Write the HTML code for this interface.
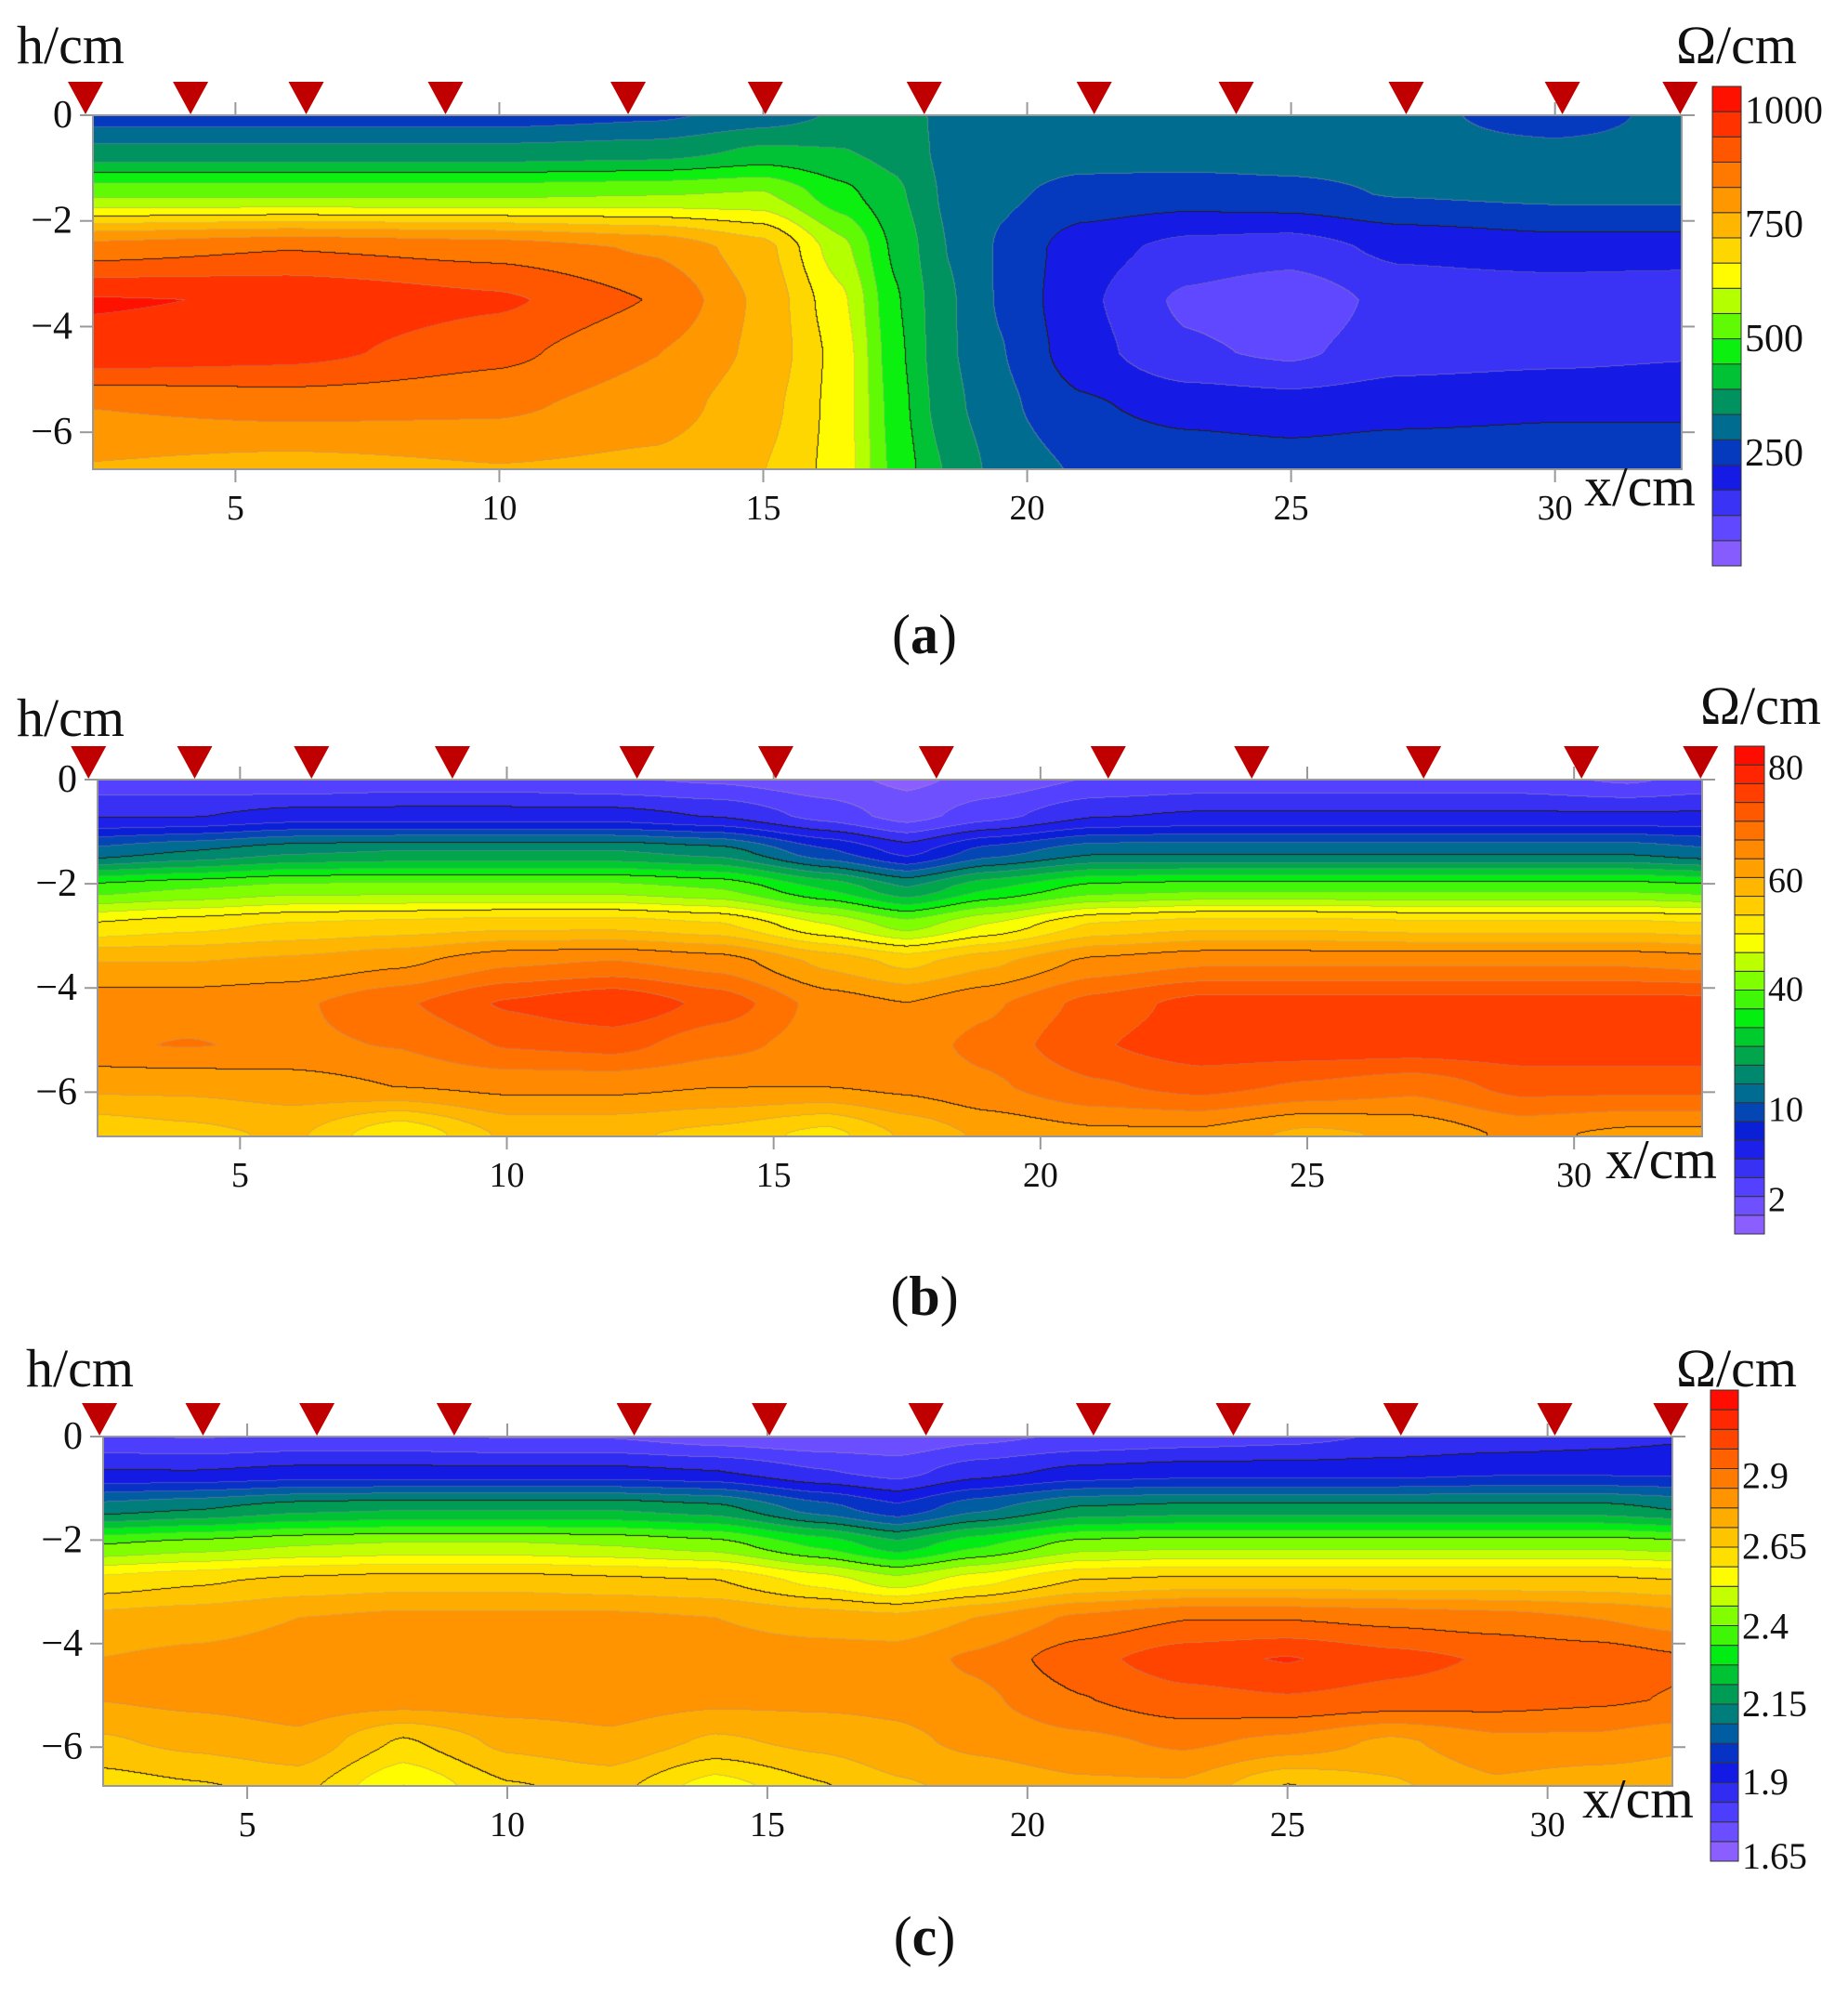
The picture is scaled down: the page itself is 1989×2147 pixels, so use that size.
<!DOCTYPE html>
<html><head><meta charset="utf-8">
<style>
html,body{margin:0;padding:0;background:#fff;}
#wrap{position:relative;width:1989px;height:2147px;overflow:hidden;background:#fff;}
canvas{position:absolute;}
svg{position:absolute;left:0;top:0;}
text{font-family:"Liberation Serif",serif;fill:#111;}
</style></head>
<body>
<div id="wrap">
<canvas id="cA"></canvas>
<canvas id="cB"></canvas>
<canvas id="cC"></canvas>
<svg id="ov" width="1989" height="2147"></svg>
</div>
<script>
// ---------- data ----------
const markerX = [2.16,4.15,6.34,8.98,12.44,15.04,18.05,21.27,23.96,27.18,30.14,32.37];
const xTicks = [5,10,15,20,25,30];
const yTicks = [0,-2,-4,-6];

// Panel a (values in ohm/cm, colour range 0..1050)
const xsA = [2,6,10,13,15,16.5,17.5,18.5,19.5,21,23,25,27,30,32.5];
const depthsA = [0,-0.7,-1.5,-2.5,-3.5,-4.5,-5.5,-6.7];
const valsA = [
 [245,245,245,265,300,340,370,310,300,295,300,300,300,240,300],
 [350,350,350,360,400,390,370,315,300,295,300,300,300,295,300],
 [540,540,540,550,560,460,400,320,285,260,250,260,280,290,290],
 [850,880,860,820,740,570,430,330,270,190,150,140,180,200,200],
 [1000,990,950,880,760,620,450,340,270,180,100,70,130,130,120],
 [980,960,900,830,760,640,460,340,280,190,120,100,140,150,160],
 [830,850,840,800,740,640,470,350,290,230,200,190,200,210,210],
 [770,750,770,760,720,640,480,380,310,270,260,250,260,260,260]
];
const levelsA = ["1000","750","500","250"];
const levelValsA = [1000,750,500,250];

// Panel b (normalised colour value 0..1)
const xsB = [2,4,6,8,10,12,14,16,17.5,19,21,23,25,27,29,31,32.5];
const depthsB = [0,-0.7,-1.4,-2.1,-2.8,-3.5,-4.3,-5.1,-5.9,-6.8];
const valsB = [
 [0.09,0.09,0.08,0.09,0.09,0.08,0.07,0.05,0.03,0.05,0.08,0.09,0.09,0.09,0.09,0.07,0.09],
 [0.15,0.15,0.17,0.17,0.17,0.17,0.15,0.10,0.06,0.10,0.15,0.16,0.16,0.16,0.16,0.16,0.16],
 [0.28,0.31,0.34,0.35,0.35,0.35,0.33,0.24,0.18,0.25,0.30,0.30,0.30,0.30,0.30,0.30,0.28],
 [0.48,0.50,0.52,0.52,0.52,0.52,0.50,0.42,0.35,0.42,0.48,0.49,0.49,0.49,0.49,0.49,0.48],
 [0.62,0.64,0.66,0.67,0.68,0.68,0.66,0.58,0.52,0.58,0.66,0.68,0.68,0.67,0.67,0.67,0.66],
 [0.73,0.73,0.74,0.76,0.80,0.81,0.79,0.72,0.68,0.72,0.78,0.80,0.80,0.80,0.80,0.80,0.79],
 [0.79,0.79,0.80,0.84,0.89,0.92,0.87,0.79,0.77,0.80,0.86,0.90,0.90,0.90,0.90,0.90,0.90],
 [0.80,0.81,0.80,0.81,0.85,0.86,0.82,0.79,0.79,0.82,0.88,0.91,0.91,0.91,0.91,0.91,0.91],
 [0.74,0.74,0.75,0.77,0.78,0.78,0.77,0.77,0.78,0.80,0.84,0.86,0.84,0.82,0.86,0.86,0.86],
 [0.66,0.68,0.70,0.62,0.70,0.70,0.68,0.64,0.70,0.74,0.76,0.76,0.72,0.74,0.78,0.76,0.76]
];
const levelsB = ["80","60","40","10","2"];
const levelTB = [0.958,0.726,0.503,0.257,0.072];

// Panel c (normalised colour value 0..1)
const xsC = [2,4,6,8,10,12,14,16,17.5,19,21,23,25,27,29,31,32.5];
const depthsC = [0,-0.7,-1.4,-2.1,-2.8,-3.5,-4.3,-5.1,-5.9,-6.8];
const valsC = [
 [0.09,0.08,0.09,0.09,0.08,0.08,0.06,0.05,0.05,0.07,0.09,0.10,0.11,0.13,0.14,0.15,0.16],
 [0.17,0.17,0.18,0.18,0.18,0.18,0.17,0.13,0.11,0.15,0.18,0.19,0.19,0.19,0.20,0.20,0.20],
 [0.31,0.33,0.36,0.37,0.37,0.37,0.35,0.27,0.22,0.28,0.34,0.35,0.35,0.35,0.35,0.35,0.33],
 [0.50,0.52,0.54,0.55,0.55,0.54,0.52,0.45,0.39,0.45,0.52,0.53,0.53,0.53,0.53,0.53,0.52],
 [0.64,0.66,0.68,0.69,0.69,0.68,0.67,0.61,0.56,0.61,0.67,0.68,0.68,0.68,0.68,0.68,0.67],
 [0.72,0.73,0.75,0.76,0.76,0.76,0.75,0.73,0.72,0.75,0.80,0.83,0.83,0.82,0.81,0.79,0.77],
 [0.75,0.76,0.77,0.77,0.77,0.77,0.77,0.77,0.77,0.80,0.86,0.90,0.92,0.89,0.87,0.86,0.84],
 [0.75,0.76,0.77,0.77,0.77,0.77,0.76,0.76,0.76,0.78,0.83,0.86,0.87,0.86,0.85,0.84,0.83],
 [0.70,0.72,0.74,0.66,0.72,0.74,0.70,0.72,0.74,0.76,0.78,0.80,0.78,0.74,0.78,0.78,0.76],
 [0.64,0.66,0.68,0.58,0.66,0.68,0.60,0.66,0.70,0.72,0.74,0.74,0.66,0.70,0.74,0.72,0.72]
];
const levelsC = ["2.9","2.65","2.4","2.15","1.9","1.65"];
const levelTC = [0.82,0.67,0.50,0.335,0.17,0.012];

// ---------- palette ----------
const stops = [[0,'#9966ff'],[0.1,'#5040ff'],[0.2,'#0a14e0'],[0.28,'#006699'],[0.36,'#00a050'],[0.44,'#00ee10'],[0.52,'#80ff00'],[0.6,'#ffff00'],[0.68,'#ffc800'],[0.76,'#ff9a00'],[0.84,'#ff6a00'],[0.92,'#ff3300'],[1,'#ff0000']];
function hex(h){return [parseInt(h.substr(1,2),16),parseInt(h.substr(3,2),16),parseInt(h.substr(5,2),16)];}
function pal(t){
  t=Math.max(0,Math.min(1,t));
  for(let i=1;i<stops.length;i++){ if(t<=stops[i][0]){const a=stops[i-1],b=stops[i];const f=(t-a[0])/(b[0]-a[0]);const ca=hex(a[1]),cb=hex(b[1]);return [0,1,2].map(k=>Math.round(ca[k]+(cb[k]-ca[k])*f));}}
  return hex('#ff0000');
}
function bandColor(b,n){return pal((b+0.5)/n);}

function interp(xs,ds,vals,x,d){
  let i=0; while(i<xs.length-2 && x>xs[i+1]) i++;
  let j=0; while(j<ds.length-2 && d<ds[j+1]) j++;
  let fx=(x-xs[i])/(xs[i+1]-xs[i]); fx=Math.max(0,Math.min(1,fx));
  let fy=(d-ds[j])/(ds[j+1]-ds[j]); fy=Math.max(0,Math.min(1,fy));
  fx=fx*fx*(3-2*fx)*0.5+fx*0.5; fy=fy*fy*(3-2*fy)*0.5+fy*0.5;
  const a=vals[j][i],b=vals[j][i+1],c=vals[j+1][i],e=vals[j+1][i+1];
  return (a*(1-fx)+b*fx)*(1-fy)+(c*(1-fx)+e*fx)*fy;
}

const panels = [
 {id:'cA',L:100,T:124,W:1710,H:381,x0:2.3,x1:32.4,y1:-6.7,xs:xsA,ds:depthsA,vals:valsA,scale:1/1050,n:19,
  cb:{x:1843,y:93,w:31,h:516},labels:levelsA,labelT:levelValsA.map(v=>v/1050),lfs:42,
  hy:68,hx:18,oy:68,ox:1869,xcm:[1705,544],cap:703,capL:'a'},
 {id:'cB',L:105,T:839,W:1727,H:384,x0:2.33,x1:32.4,y1:-6.85,xs:xsB,ds:depthsB,vals:valsB,scale:1,n:26,
  cb:{x:1867,y:803,w:32,h:525},labels:levelsB,labelT:levelTB,lfs:38,
  hy:792,hx:18,oy:779,ox:1895,xcm:[1728,1268],cap:1415,capL:'b'},
 {id:'cC',L:111,T:1546,W:1689,H:376,x0:2.23,x1:32.4,y1:-6.75,xs:xsC,ds:depthsC,vals:valsC,scale:1,n:24,
  cb:{x:1841,y:1496,w:30,h:507},labels:levelsC,labelT:levelTC,lfs:40,
  hy:1492,hx:28,oy:1492,ox:1869,xcm:[1703,1956],cap:2104,capL:'c'}
];

const NS='http://www.w3.org/2000/svg';
const ov=document.getElementById('ov');
function el(tag,attrs,txt){const e=document.createElementNS(NS,tag);for(const k in attrs)e.setAttribute(k,attrs[k]);if(txt!==undefined)e.textContent=txt;ov.appendChild(e);return e;}

panels.forEach((p,pi)=>{
  const cv=document.getElementById(p.id);
  cv.width=p.W;cv.height=p.H;cv.style.left=p.L+'px';cv.style.top=p.T+'px';
  const ctx=cv.getContext('2d');
  const img=ctx.createImageData(p.W,p.H);
  const band=new Int16Array(p.W*p.H);
  const sx=x=>p.L+(x-p.x0)/(p.x1-p.x0)*p.W;
  const sy=y=>p.T+(-y)/(-p.y1)*p.H;
  for(let py=0;py<p.H;py++){
    const d=p.y1*(py+0.5)/p.H;
    for(let px=0;px<p.W;px++){
      const x=p.x0+(p.x1-p.x0)*(px+0.5)/p.W;
      const t=interp(p.xs,p.ds,p.vals,x,d)*p.scale;
      band[py*p.W+px]=Math.max(0,Math.min(p.n-1,Math.floor(t*p.n)));
    }
  }
  const cols=[];for(let b=0;b<p.n;b++)cols.push(bandColor(b,p.n));
  for(let py=0;py<p.H;py++)for(let px=0;px<p.W;px++){
    const k=py*p.W+px;let b=band[k];let c=cols[b];
    let line=0;
    const r=px<p.W-1?band[k+1]:b, dn=py<p.H-1?band[k+p.W]:b;
    const nb = r!==b?r:(dn!==b?dn:b);
    if(nb!==b){const m=Math.max(b,nb); line=(m%4===0)?2:1;}
    const o=k*4;
    if(line===2){img.data[o]=40;img.data[o+1]=30;img.data[o+2]=20;}
    else if(line===1){img.data[o]=Math.round(c[0]*0.6+170*0.4);img.data[o+1]=Math.round(c[1]*0.6+150*0.4);img.data[o+2]=Math.round(c[2]*0.6+150*0.4);}
    else {img.data[o]=c[0];img.data[o+1]=c[1];img.data[o+2]=c[2];}
    img.data[o+3]=255;
  }
  ctx.putImageData(img,0,0);

  const fr=el('rect',{x:p.L,y:p.T,width:p.W,height:p.H,fill:'none',stroke:'#999','stroke-width':2});
  
  
  xTicks.forEach(v=>{
    const x=sx(v);
    const tk=el('line',{x1:x,y1:p.T-14,x2:x,y2:p.T,stroke:'#999','stroke-width':2});
    
    
    const tk2=el('line',{x1:x,y1:p.T+p.H,x2:x,y2:p.T+p.H+14,stroke:'#999','stroke-width':2});
    
    
    const lb=el('text',{x:x,y:p.T+p.H+54,'font-size':38,'text-anchor':'middle'},String(v));
    
    
  });
  yTicks.forEach(v=>{
    const y=sy(v);
    const tk=el('line',{x1:p.L-14,y1:y,x2:p.L,y2:y,stroke:'#999','stroke-width':2});
    
    
    const tk2=el('line',{x1:p.L+p.W,y1:y,x2:p.L+p.W+14,y2:y,stroke:'#999','stroke-width':2});
    
    
    const lb=el('text',{x:p.L-22,y:y+13,'font-size':42,'text-anchor':'end'},v===0?'0':'\u2212'+(-v));
    
    
  });
  markerX.forEach(v=>{
    const x=sx(v);
    const tri=el('polygon',{points:`${x-19},${p.T-36} ${x+19},${p.T-36} ${x},${p.T-1}`,fill:'#c00000'});
    
    
  });
  const h=el('text',{x:p.hx,y:p.hy,'font-size':58},'h/cm');
  
  
  const om=el('text',{x:p.ox,y:p.oy,'font-size':58,'text-anchor':'middle'},'\u03A9/cm');
  
  
  const xt=el('text',{x:p.xcm[0],y:p.xcm[1],'font-size':60},'x/cm');
  
  
  const cap=el('text',{x:995,y:p.cap,'font-size':60,'text-anchor':'middle'});
  
  
  const s1=document.createElementNS(NS,'tspan');s1.textContent='(';cap.appendChild(s1);
  const s2=document.createElementNS(NS,'tspan');s2.setAttribute('font-weight','bold');s2.textContent=p.capL;cap.appendChild(s2);
  const s3=document.createElementNS(NS,'tspan');s3.textContent=')';cap.appendChild(s3);
  const cb=p.cb, bh=cb.h/p.n;
  for(let b=0;b<p.n;b++){
    const c=cols[b];
    const r=el('rect',{x:cb.x,y:cb.y+cb.h-(b+1)*bh,width:cb.w,height:bh,fill:`rgb(${c[0]},${c[1]},${c[2]})`,stroke:'#333','stroke-width':1});
    
    
  }
  p.labels.forEach((t,i)=>{
    const y=cb.y+cb.h*(1-p.labelT[i]);
    const lb=el('text',{x:cb.x+cb.w+4,y:y+p.lfs*0.35,'font-size':p.lfs},t);
    
    
  });
});
</script>
</body></html>
